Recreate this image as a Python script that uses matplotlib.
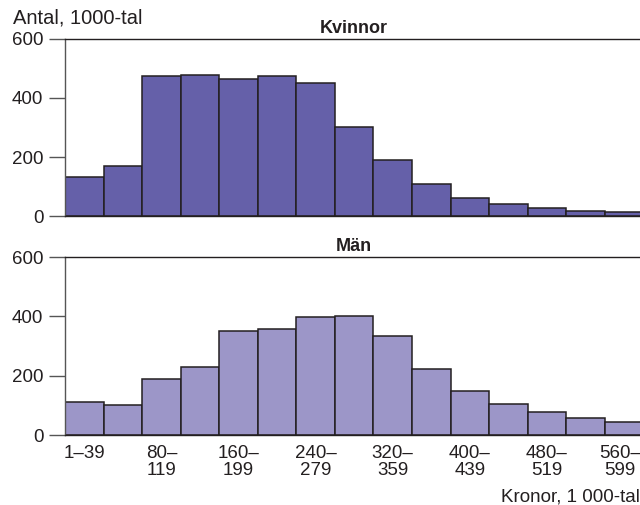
import matplotlib
matplotlib.use("Agg")
import matplotlib.pyplot as plt
import matplotlib.transforms as mtransforms

plt.rcParams['font.family'] = ['Liberation Sans', 'DejaVu Sans']

bin_starts = [0, 40, 80, 120, 160, 200, 240, 280, 320, 360, 400, 440, 480, 520, 560]
bin_width = 40
kvinnor = [134, 171, 474, 477, 462, 472, 449, 302, 189, 108, 63, 41, 28, 20, 15]
man = [113, 102, 191, 231, 352, 359, 398, 403, 335, 222, 148, 104, 80, 58, 44]
xtick_pos = [20, 100, 180, 260, 340, 420, 500, 580]
xtick_labels = ["1–39", "80–\n119", "160–\n199", "240–\n279", "320–\n359",
                "400–\n439", "480–\n519", "560–\n599"]
yticks = [0, 200, 400, 600]

dark = "#231f20"
fig = plt.figure(figsize=(6.4, 5.05), dpi=100)

def make_ax(rect, values, color, title, show_x):
    ax = fig.add_axes(rect)
    ax.bar(bin_starts, values, width=bin_width, align='edge', color=color,
           edgecolor=dark, linewidth=1.1)
    ax.set_xlim(0, 600)
    ax.set_ylim(0, 600)
    ax.set_yticks(yticks)
    ax.tick_params(axis='y', direction='out', length=11.5, width=1, color='#555555',
                   labelsize=13.5, pad=4, labelcolor=dark)
    ax.spines['right'].set_visible(False)
    for s in ['left', 'top', 'bottom']:
        ax.spines[s].set_linewidth(1)
    ax.spines['left'].set_color('#555555')
    ax.spines['top'].set_color(dark)
    ax.spines['bottom'].set_color(dark)
    ax.set_title(title, fontsize=13, fontweight='bold', color=dark, pad=4)
    if show_x:
        ax.set_xticks(xtick_pos)
        ax.set_xticklabels(xtick_labels, fontsize=13.5, color=dark, linespacing=1.0)
        ax.tick_params(axis='x', length=0, pad=7)
        last = ax.get_xticklabels()[-1]
        last.set_transform(last.get_transform() +
                           mtransforms.ScaledTranslation(-4 / 100, 0, fig.dpi_scale_trans))
    else:
        ax.set_xticks([])
    return ax

w = (643.3 - 65) / 640
make_ax([65 / 640, 1 - 216.5 / 505, w, 178 / 505], kvinnor, "#6560a9", "Kvinnor", False)
make_ax([65 / 640, 1 - 435.3 / 505, w, 178.3 / 505], man, "#9c96c8", "Män", True)

fig.text(13 / 640, 1 - 18 / 505, "Antal, 1000-tal", fontsize=14.5, color=dark,
         ha='left', va='center')
fig.text(640 / 640, 1 - 497 / 505, "Kronor, 1 000-tal", fontsize=13.5, color=dark,
         ha='right', va='center')

fig.savefig("out.png", dpi=100)
